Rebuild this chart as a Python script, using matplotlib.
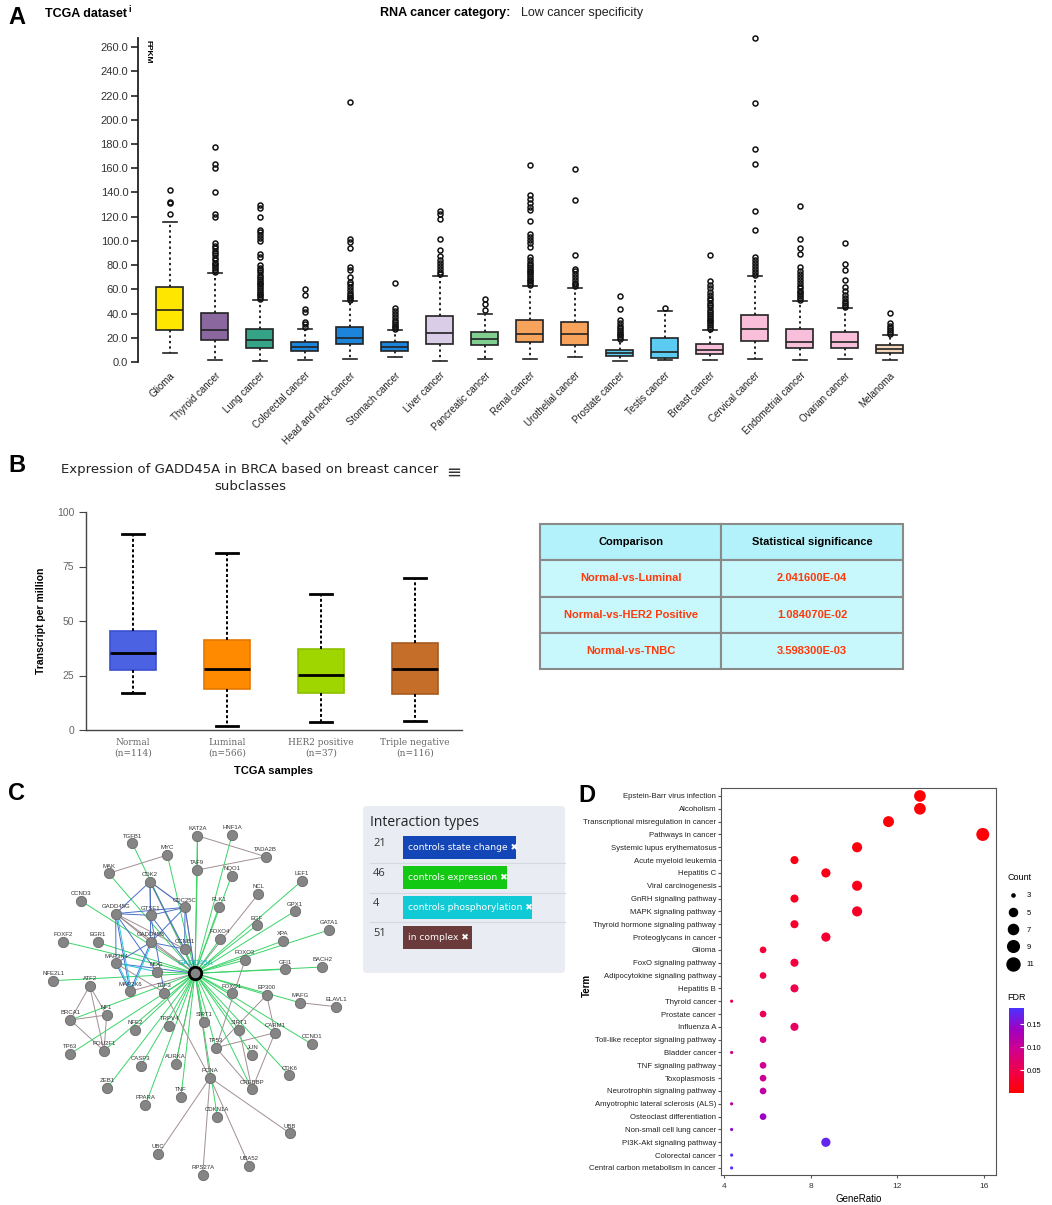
import numpy as np
import matplotlib
matplotlib.use("Agg")
import matplotlib.pyplot as plt
from matplotlib import font_manager
from matplotlib.colors import LinearSegmentedColormap, Normalize
from matplotlib.cm import ScalarMappable
from matplotlib.lines import Line2D
from matplotlib.patches import FancyBboxPatch, Rectangle

# ---------------- data: panel A (TCGA FPKM boxplots) ----------------
cancer_types = ["Glioma", "Thyroid cancer", "Lung cancer", "Colorectal cancer",
                "Head and neck cancer", "Stomach cancer", "Liver cancer", "Pancreatic cancer",
                "Renal cancer", "Urothelial cancer", "Prostate cancer", "Testis cancer",
                "Breast cancer", "Cervical cancer", "Endometrial cancer", "Ovarian cancer",
                "Melanoma"]
a_q1 = [26.1, 18.4, 11.6, 9.1, 14.6, 9.1, 14.6, 13.8, 16.5, 14.3, 4.7, 3.6, 6.6, 17.3, 11.6, 11.8, 7.7]
a_med = [42.6, 26.4, 17.9, 12.4, 20.1, 12.4, 24.2, 19.3, 23.4, 22.8, 7.4, 8.0, 10.2, 27.5, 16.5, 16.5, 11.0]
a_q3 = [61.9, 40.4, 27.5, 16.5, 28.9, 16.5, 37.7, 24.8, 34.9, 33.0, 10.2, 19.5, 14.6, 39.1, 27.5, 24.8, 14.0]
a_lo = [7.7, 1.9, 0.8, 1.4, 2.2, 4.1, 0.8, 2.2, 2.8, 4.1, 0.8, 1.4, 1.4, 2.2, 1.4, 2.8, 1.9]
a_hi = [115.3, 73.5, 50.9, 27.5, 50.1, 26.1, 71.3, 39.9, 62.7, 61.3, 17.9, 41.8, 26.7, 70.7, 50.1, 44.3, 22.0]
a_out = [
    [122.1, 131.0, 132.5, 141.7],
    [74.5, 76, 77.5, 79, 80.5, 82, 84, 86, 88, 90, 92, 94, 96, 98.5, 119.7, 122.4, 140.3, 160.1, 163.7, 177.4],
    [52, 53.5, 55, 56.5, 58, 59.5, 61, 62.5, 64, 65.5, 67, 68.5, 70, 72, 74, 76, 78, 80, 86.5, 89.4,
     100, 102, 104.5, 107, 109.2, 119.7, 127.4, 130],
    [29, 31, 33, 41.3, 44, 55, 60.2],
    [51, 52.5, 54, 55.5, 57, 59.1, 61.9, 64, 66, 70.2, 75.7, 78.4, 94.4, 99, 101.8, 214.9],
    [27, 28.5, 30, 31.5, 33, 35, 37.1, 39.9, 42.5, 44.8, 65.2],
    [72.5, 74.5, 76.5, 79, 81.5, 84, 87.2, 92.7, 101.8, 118.3, 121.9, 124.6],
    [42.6, 48.1, 52.3],
    [63.5, 65, 66.5, 68, 69.5, 71, 72.5, 74, 75.5, 77, 78.5, 80, 82, 84, 86.7, 95, 98, 100.5, 103, 106,
     116.4, 125.2, 128, 131, 134.8, 137.6, 162.5],
    [62.5, 64, 65.5, 67.5, 70, 72.5, 75, 77, 88.6, 133.4, 159.3],
    [19, 20.5, 22, 23.5, 25, 26.5, 28, 30, 32, 34.4, 44, 54.7],
    [44.3],
    [27.5, 29, 30.5, 32, 33.5, 35, 36.5, 38, 39.5, 41, 43, 45, 47, 49, 51, 53, 55, 58, 61, 63.5, 66.6, 88.6],
    [72, 74, 76.5, 79, 81.5, 84, 86.7, 108.9, 124.4, 163.1, 176, 214, 267.4],
    [51.5, 53, 54.5, 56, 57.5, 59, 61, 63, 65.5, 68, 70.5, 73, 75.5, 78.4, 88.9, 94.4, 101.8, 129],
    [45.5, 47, 48.5, 50.5, 53, 55.5, 58.5, 62, 67.4, 75.7, 81.2, 97.9],
    [23, 24.5, 26.1, 28, 30, 32.2, 40.7],
]
a_colors = ["#FFE600", "#8B67A0", "#35A386", "#1C84DA", "#1C84DA", "#1C84DA", "#D9CDE8", "#80CE90",
            "#F7A35C", "#F7A35C", "#5CCBF2", "#5CCBF2", "#F9BFDA", "#F9BFDA", "#F9BFDA", "#F9BFDA", "#F4D9BE"]

# ---------------- data: panel B (UALCAN boxplot) ----------------
b_groups = ["Normal\n(n=114)", "Luminal\n(n=566)", "HER2 positive\n(n=37)", "Triple negative\n(n=116)"]
b_lo = [17.1, 1.8, 3.5, 4.3]
b_q1 = [27.5, 18.9, 16.9, 16.6]
b_med = [35.4, 28.2, 25.2, 28.2]
b_q3 = [45.6, 41.1, 37.1, 39.7]
b_hi = [90.1, 81.4, 62.3, 69.9]
b_fill = ["#4B62E3", "#FF8A00", "#9FD600", "#C46E2A"]
b_edge = ["#3A50D0", "#E07800", "#8CC000", "#A85A20"]

table_header = ["Comparison", "Statistical significance"]
table_rows = [["Normal-vs-Luminal", "2.041600E-04"],
              ["Normal-vs-HER2 Positive", "1.084070E-02"],
              ["Normal-vs-TNBC", "3.598300E-03"]]

# ---------------- data: panel C (network) ----------------
node_names = ["GADD45A", "KAT2A", "HNF1A", "TGFB1", "MYC", "TADA2B", "TAF9", "NQO1", "MAK", "CDK2",
              "LEF1", "NCL", "CCND3", "GADD45G", "GTSE1", "CDC25C", "PLK1", "GPX1", "EGF", "GATA1",
              "FOXF2", "EGR1", "GADD45B", "CCNB1", "FOXO4", "XPA", "MAP3K4", "FOXO3", "GFI1", "BACH2",
              "NFE2L1", "ATF2", "NOG", "MAP2K6", "TCF3", "FOXO1", "EP300", "MAFG", "ELAVL1", "BRCA1",
              "NF1", "NFE2", "TRPV4", "SIRT1", "SIRT1 ", "CARM1", "TP63", "POU2F1", "TP53", "JUN",
              "CCND1", "CASP3", "AURKA", "CDK6", "PCNA", "CREBBP", "ZEB1", "PPARA", "TNF", "CDKN1A",
              "UBB", "UBC", "UBA52", "RPS27A"]
node_x = [585, 592, 696, 397, 502, 797, 592, 695, 326, 450,
          905, 775, 242, 347, 452, 555, 657, 884, 770, 987,
          190, 293, 452, 554, 660, 848, 348, 735, 856, 967,
          160, 269, 470, 390, 493, 695, 800, 900, 1008, 211,
          320, 405, 508, 612, 718, 825, 210, 312, 648, 757,
          935, 422, 527, 868, 630, 756, 322, 436, 543, 652,
          870, 474, 748, 608]
node_y = [460, 47, 45, 70, 105, 110, 150, 167, 160, 185,
          183, 222, 242, 281, 286, 262, 260, 274, 316, 330,
          365, 367, 367, 387, 357, 363, 430, 420, 448, 441,
          482, 498, 456, 514, 518, 520, 525, 548, 560, 600,
          585, 630, 618, 606, 630, 638, 702, 692, 683, 705,
          672, 738, 732, 766, 773, 808, 803, 855, 830, 890,
          940, 1003, 1037, 1065]

expression_targets = ["KAT2A", "HNF1A", "TGFB1", "MYC", "TAF9", "NQO1", "MAK", "LEF1", "CCND3", "PLK1",
                      "GPX1", "EGF", "GATA1", "FOXF2", "EGR1", "XPA", "FOXO3", "GFI1", "BACH2",
                      "NFE2L1", "FOXO1", "EP300", "MAFG", "BRCA1", "NFE2", "TRPV4", "SIRT1", "SIRT1 ",
                      "CARM1", "TP63", "POU2F1", "TP53", "JUN", "CCND1", "ZEB1", "CASP3", "AURKA",
                      "CDK6", "CREBBP", "PPARA", "TNF", "CDKN1A", "FOXO4", "CCNB1", "NOG", "TCF3"]
state_edges = [("GADD45G", "CDK2"), ("GADD45G", "GTSE1"), ("GADD45G", "CDC25C"), ("GADD45G", "MAP3K4"),
               ("GADD45G", "MAP2K6"), ("GADD45G", "NOG"), ("GTSE1", "CDK2"), ("GTSE1", "CDC25C"),
               ("CDK2", "CDC25C"), ("CDK2", "CCNB1"), ("GADD45B", "CDC25C"), ("GADD45B", "MAP3K4"),
               ("GADD45B", "MAP2K6"), ("GADD45B", "CCNB1"), ("CDC25C", "CCNB1"), ("MAP3K4", "MAP2K6"),
               ("GTSE1", "TCF3"), ("CDK2", "GADD45B"), ("GTSE1", "GADD45A"), ("CDC25C", "GADD45A"),
               ("MAP3K4", "GADD45A")]
phospho_edges = [("GADD45G", "MAP2K6"), ("MAP3K4", "MAP2K6"), ("GADD45B", "MAP2K6"), ("MAP3K4", "NOG")]
complex_edges = [("KAT2A", "TADA2B"), ("TAF9", "TADA2B"), ("KAT2A", "TAF9"), ("MAK", "MYC"),
                 ("CDK2", "CDC25C"), ("CDK2", "GADD45A"), ("CDC25C", "GADD45A"), ("CCNB1", "GADD45A"),
                 ("GADD45G", "GADD45B"), ("GADD45G", "CCNB1"), ("ATF2", "BRCA1"), ("ATF2", "POU2F1"),
                 ("ATF2", "NF1"), ("BRCA1", "POU2F1"), ("BRCA1", "NF1"), ("NF1", "POU2F1"),
                 ("PCNA", "UBC"), ("PCNA", "RPS27A"), ("PCNA", "UBA52"), ("PCNA", "UBB"),
                 ("PCNA", "GADD45A"), ("EP300", "CARM1"), ("EP300", "TP53"), ("CARM1", "TP53"),
                 ("CARM1", "CREBBP"), ("TP53", "CREBBP"), ("MAFG", "ELAVL1"), ("NCL", "GADD45A"),
                 ("AURKA", "GADD45A"), ("TCF3", "PCNA"), ("SIRT1 ", "CREBBP"), ("MAP3K4", "TCF3"),
                 ("FOXO3", "TP53"), ("GADD45B", "GADD45A"), ("MAP2K6", "GADD45A"), ("GADD45G", "GADD45A")]
legend_counts = [21, 46, 4, 51]
legend_types = ["controls state change", "controls expression", "controls phosphorylation", "in complex"]
legend_colors = ["#1347B8", "#12C812", "#10CAD6", "#6B3A3A"]

# ---------------- data: panel D (KEGG dot plot) ----------------
terms = ["Epstein-Barr virus infection", "Alcoholism", "Transcriptional misregulation in cancer",
         "Pathways in cancer", "Systemic lupus erythematosus", "Acute myeloid leukemia", "Hepatitis C",
         "Viral carcinogenesis", "GnRH signaling pathway", "MAPK signaling pathway",
         "Thyroid hormone signaling pathway", "Proteoglycans in cancer", "Glioma", "FoxO signaling pathway",
         "Adipocytokine signaling pathway", "Hepatitis B", "Thyroid cancer", "Prostate cancer", "Influenza A",
         "Toll-like receptor signaling pathway", "Bladder cancer", "TNF signaling pathway", "Toxoplasmosis",
         "Neurotrophin signaling pathway", "Amyotrophic lateral sclerosis (ALS)", "Osteoclast differentiation",
         "Non-small cell lung cancer", "PI3K-Akt signaling pathway", "Colorectal cancer",
         "Central carbon metabolism in cancer"]
counts = [9, 9, 8, 11, 7, 5, 6, 7, 5, 7, 5, 6, 4, 5, 4, 5, 3, 4, 5, 4, 3, 4, 4, 4, 3, 4, 3, 6, 3, 3]
gene_ratio = [13.04, 13.04, 11.59, 15.94, 10.14, 7.25, 8.70, 10.14, 7.25, 10.14, 7.25, 8.70, 5.80, 7.25,
              5.80, 7.25, 4.35, 5.80, 7.25, 5.80, 4.35, 5.80, 5.80, 5.80, 4.35, 5.80, 4.35, 8.70, 4.35, 4.35]
fdr = [0.002, 0.003, 0.004, 0.003, 0.008, 0.012, 0.015, 0.016, 0.020, 0.025, 0.028, 0.030, 0.035, 0.040,
       0.045, 0.048, 0.050, 0.055, 0.060, 0.085, 0.090, 0.095, 0.100, 0.110, 0.120, 0.140, 0.150, 0.172,
       0.178, 0.184]
count_legend = [3, 5, 7, 9, 11]

# ---------------- helpers ----------------
W, H = 1052, 1205
fig = plt.figure(figsize=(W / 100, H / 100), dpi=100)
plt.rcParams['font.family'] = ['Liberation Sans', 'DejaVu Sans']

names = {f.name for f in font_manager.fontManager.ttflist}
NARROW = 'Liberation Sans Narrow' if 'Liberation Sans Narrow' in names else 'Liberation Sans'


def px_axes(l, t, r, b):
    return fig.add_axes([l / W, 1 - b / H, (r - l) / W, (b - t) / H])


def ftext(x, y, s, **kw):
    fig.text(x / W, 1 - y / H, s, **kw)


def dot_pt(c):
    # ggplot-like area scale, diameter in pixels -> points
    d = 3.2 + 9.8 * np.sqrt((c - 3) / 8.0)
    return d * 0.72


# panel letters
for lab, x, y in [("A", 8, 18), ("B", 8, 466), ("C", 8, 793), ("D", 578, 795)]:
    ftext(x, y, lab, fontsize=17, fontweight='bold', va='center', ha='left')

# ---------------- panel A ----------------
axA = px_axes(138, 38, 935, 362)
statsA = [dict(med=a_med[i], q1=a_q1[i], q3=a_q3[i], whislo=a_lo[i], whishi=a_hi[i], fliers=a_out[i])
          for i in range(len(cancer_types))]
bpA = axA.bxp(statsA, positions=np.arange(1, len(cancer_types) + 1), widths=0.6, patch_artist=True,
              capwidths=0.3,
              boxprops=dict(edgecolor='#222222', linewidth=1.2),
              medianprops=dict(color='#222222', linewidth=1.2),
              whiskerprops=dict(color='#222222', linestyle=(0, (1.2, 1.6)), linewidth=1.4),
              capprops=dict(color='#222222', linewidth=1.2),
              flierprops=dict(marker='o', markerfacecolor='none', markeredgecolor='#111111',
                              markersize=3.6, markeredgewidth=1.1))
for patch, c in zip(bpA['boxes'], a_colors):
    patch.set_facecolor(c)
for fl in bpA['fliers']:
    fl.set_clip_on(False)
axA.set_xlim(0.29, 18)
axA.set_ylim(0, 267.5)
for s in ['top', 'right', 'bottom']:
    axA.spines[s].set_visible(False)
axA.spines['left'].set_linewidth(1.3)
axA.spines['left'].set_color('#222222')
axA.set_yticks(np.arange(0, 261, 20))
axA.set_yticklabels([f"{v:.1f}" for v in np.arange(0, 261, 20)], fontsize=8, color='#333333')
axA.tick_params(axis='y', length=5, width=1.2, color='#222222', pad=2)
axA.set_xticks(np.arange(1, len(cancer_types) + 1))
axA.set_xticklabels(cancer_types, rotation=45, ha='right', va='top', rotation_mode='anchor',
                    fontsize=7, color='#222222')
axA.tick_params(axis='x', length=0, pad=6)
axA.text(0.008, 0.995, "FPKM", transform=axA.transAxes, rotation=270, fontsize=6,
         ha='left', va='top', fontweight='bold')
ftext(45, 14, "TCGA dataset", fontsize=9, fontweight='bold', va='center')
ftext(128, 9, "i", fontsize=6.5, fontweight='bold', va='center')
ftext(380, 13, "RNA cancer category:", fontsize=9, fontweight='bold', va='center')
ftext(521, 13, "Low cancer specificity", fontsize=9, va='center', color='#222222')

# ---------------- panel B ----------------
axB = px_axes(86, 512, 462, 730)
statsB = [dict(med=b_med[i], q1=b_q1[i], q3=b_q3[i], whislo=b_lo[i], whishi=b_hi[i], fliers=[])
          for i in range(len(b_groups))]
bpB = axB.bxp(statsB, positions=np.arange(1, 5), widths=0.48, patch_artist=True, capwidths=0.23,
              medianprops=dict(color='black', linewidth=2.0),
              whiskerprops=dict(color='black', linestyle=(0, (1.5, 1.2)), linewidth=1.4),
              capprops=dict(color='black', linewidth=2.0), showfliers=False)
for patch, f, e in zip(bpB['boxes'], b_fill, b_edge):
    patch.set_facecolor(f)
    patch.set_edgecolor(e)
    patch.set_linewidth(1.2)
axB.set_xlim(0.5, 4.5)
axB.set_ylim(0, 100)
for s in ['top', 'right']:
    axB.spines[s].set_visible(False)
for s in ['left', 'bottom']:
    axB.spines[s].set_color('#444444')
    axB.spines[s].set_linewidth(1.0)
axB.set_yticks([0, 25, 50, 75, 100])
axB.tick_params(axis='y', labelsize=7.5, labelcolor='#666666', length=5, color='#444444')
axB.set_xticks(np.arange(1, 5))
axB.set_xticklabels(b_groups, fontsize=6.5, color='#666666', family='DejaVu Serif')
axB.tick_params(axis='x', length=0, pad=6)
axB.set_ylabel("Transcript per million", fontsize=7.5, fontweight='bold', labelpad=8)
axB.set_xlabel("TCGA samples", fontsize=8, fontweight='bold', labelpad=6)
ftext(250, 470, "Expression of GADD45A in BRCA based on breast cancer", fontsize=9.5, ha='center',
      va='center', family='DejaVu Sans', color='#222222')
ftext(250, 486, "subclasses", fontsize=9.5, ha='center', va='center', family='DejaVu Sans', color='#222222')
ftext(454, 473, "\u2261", fontsize=13, ha='center', va='center', family='DejaVu Sans', color='#333333')

# table
axT = px_axes(540, 524, 903, 669)
axT.axis('off')
tbl = axT.table(cellText=table_rows, colLabels=table_header, cellLoc='center', bbox=[0, 0, 1, 1])
for (r, c), cell in tbl.get_celld().items():
    cell.set_edgecolor('#8A8A8A')
    cell.set_linewidth(1.5)
    if r == 0:
        cell.set_facecolor('#B3F2FA')
        cell.get_text().set_color('black')
    else:
        cell.set_facecolor('#C8F7FC')
        cell.get_text().set_color('#FF3A0A')
    cell.get_text().set_fontweight('bold')
    cell.get_text().set_fontsize(8)
tbl.auto_set_font_size(False)

# ---------------- panel C: network ----------------
axC = px_axes(0, 820, 360, 1205)
axC.set_xlim(0, 1080)
axC.set_ylim(1155, 0)
axC.axis('off')
pos = {n: (x, y) for n, x, y in zip(node_names, node_x, node_y)}
for a, b in complex_edges:
    axC.plot([pos[a][0], pos[b][0]], [pos[a][1], pos[b][1]], color='#A08E92', lw=0.7, zorder=1)
for t in expression_targets:
    axC.plot([pos["GADD45A"][0], pos[t][0]], [pos["GADD45A"][1], pos[t][1]], color='#3AD468', lw=0.7,
             zorder=2)
for a, b in state_edges:
    axC.plot([pos[a][0], pos[b][0]], [pos[a][1], pos[b][1]], color='#4A6FC8', lw=0.7, zorder=2)
for a, b in phospho_edges:
    axC.plot([pos[a][0] + 4, pos[b][0] + 4], [pos[a][1], pos[b][1]], color='#22C8E0', lw=0.7, zorder=2)
others = [n for n in node_names if n != "GADD45A"]
axC.scatter([pos[n][0] for n in others], [pos[n][1] for n in others], s=55, color='#858585',
            edgecolor='#6A6A6A', linewidths=0.6, zorder=3)
axC.scatter([pos["GADD45A"][0]], [pos["GADD45A"][1]], s=80, color='#858585', edgecolor='black',
            linewidths=2.0, zorder=4)
for n in others:
    axC.text(pos[n][0], pos[n][1] - 22, n.strip(), fontsize=4.3, ha='center', va='center',
             color='#333333', zorder=5)
axC.text(pos["GADD45A"][0], pos["GADD45A"][1] - 30, "GADD45A", fontsize=5.5, ha='center', va='center',
         color='#20B4B4', zorder=5)

# interaction legend
axL = px_axes(355, 800, 575, 980)
axL.set_xlim(355, 575)
axL.set_ylim(980, 800)
axL.axis('off')
axL.add_patch(FancyBboxPatch((363, 806), 202, 167, boxstyle="round,pad=0,rounding_size=4",
                             facecolor='#E9EDF3', edgecolor='none'))
axL.text(370, 823, "Interaction types", fontsize=10, va='center', ha='left', family='Open Sans',
         color='#222222')
badge_w = [113, 104, 129, 69]
for i, (n, t, c, bw) in enumerate(zip(legend_counts, legend_types, legend_colors, badge_w)):
    yc = 848 + i * 29.7
    axL.text(373, yc - 4, str(n), fontsize=8, va='center', ha='left', family='Open Sans', color='#333333')
    axL.add_patch(Rectangle((403, yc - 11.5), bw, 23, facecolor=c, edgecolor='none'))
    axL.text(408, yc, t + " \u2716", fontsize=6.6, va='center', ha='left', color='white',
             family='DejaVu Sans')
    if i < 3:
        axL.plot([370, 565], [yc + 15, yc + 15], color='#D5DAE0', lw=0.8)

# ---------------- panel D: dot plot ----------------
fdr_cmap = LinearSegmentedColormap.from_list(
    "fdr", ["#FF0000", "#F0004A", "#D2008C", "#A000C0", "#4B33FF"])
norm = Normalize(vmin=0.0, vmax=0.185)
axD = px_axes(721, 788, 996, 1175)
ypos = np.arange(1, len(terms) + 1)
axD.scatter(gene_ratio, ypos, s=[dot_pt(c) ** 2 for c in counts], c=fdr, cmap=fdr_cmap, norm=norm,
            edgecolors='none', zorder=3)
axD.set_xlim(3.86, 16.55)
axD.set_ylim(len(terms) + 0.55, 0.38)
axD.set_yticks(ypos)
axD.set_yticklabels(terms, fontsize=5.6, family=NARROW, color='#222222')
axD.set_xticks([4, 8, 12, 16])
axD.tick_params(axis='x', labelsize=6, length=2.5, color='#555555', labelcolor='#333333')
axD.tick_params(axis='y', length=2, color='#555555', pad=1.5)
for s in axD.spines.values():
    s.set_color('#555555')
    s.set_linewidth(0.8)
axD.set_xlabel("GeneRatio", fontsize=7, family=NARROW, labelpad=3)
ftext(587, 985, "Term", fontsize=7, fontweight='bold', rotation=90, ha='center', va='center')

handles = [Line2D([], [], marker='o', ls='', color='black', markersize=dot_pt(c)) for c in count_legend]
leg = axD.legend(handles, [str(c) for c in count_legend], title="Count", loc='upper left',
                 bbox_to_anchor=(1004 / W, 1 - 870 / H), bbox_transform=fig.transFigure,
                 frameon=False, fontsize=5.5, title_fontsize=6.5, labelspacing=1.3,
                 handletextpad=1.0, borderaxespad=0, handlelength=1.6)
leg._legend_box.align = "left"

cax = px_axes(1009, 1008, 1024, 1093)
cb = fig.colorbar(ScalarMappable(norm=norm, cmap=fdr_cmap), cax=cax, ticks=[0.05, 0.10, 0.15])
cb.outline.set_visible(False)
cb.ax.tick_params(length=3, color='white', direction='in', labelsize=5.5, pad=2)
cb.ax.set_yticklabels(["0.05", "0.10", "0.15"])
ftext(1007, 998, "FDR", fontsize=6.5, va='center', ha='left')

fig.savefig("out.png", dpi=100)
